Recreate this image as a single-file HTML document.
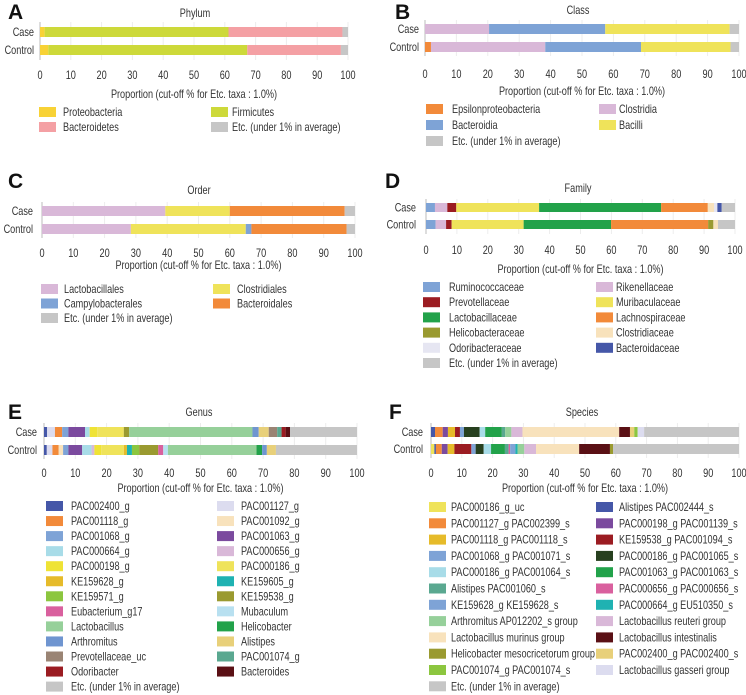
<!DOCTYPE html>
<html><head><meta charset="utf-8"><style>
html,body{margin:0;padding:0;background:#fff;}
svg{display:block;font-family:"Liberation Sans",Arial,sans-serif;}
</style></head><body>
<svg id="fig" width="746" height="695" viewBox="0 0 746 695"></svg>
<script>
// ---------- DATA ----------
const phylumLegend = ["Proteobacteria","Firmicutes","Bacteroidetes","Etc. (under 1% in average)"];
const phylumColors = ["#f8d236","#cdd93a","#f4a0a4","#c6c6c6"];
const phylumCaseTaxa = ["Proteobacteria","Firmicutes","Bacteroidetes","Etc. (under 1% in average)"];
const phylumCaseValues = [1.5,59.7,37.0,1.8];
const phylumControlTaxa = ["Proteobacteria","Firmicutes","Bacteroidetes","Etc. (under 1% in average)"];
const phylumControlValues = [2.7,64.6,30.4,2.3];

const classLegend = ["Epsilonproteobacteria","Clostridia","Bacteroidia","Bacilli","Etc. (under 1% in average)"];
const classColors = ["#f28a3a","#d9b8d8","#7ea3d6","#efe35a","#c6c6c6"];
const classCaseTaxa = ["Clostridia","Bacteroidia","Bacilli","Etc. (under 1% in average)"];
const classCaseValues = [20.4,37.0,39.6,3.0];
const classControlTaxa = ["Epsilonproteobacteria","Clostridia","Bacteroidia","Bacilli","Etc. (under 1% in average)"];
const classControlValues = [1.9,36.4,30.5,28.5,2.7];

const orderLegend = ["Lactobacillales","Clostridiales","Campylobacterales","Bacteroidales","Etc. (under 1% in average)"];
const orderColors = ["#d9b8d8","#efe35a","#7ea3d6","#f28a3a","#c6c6c6"];
const orderCaseTaxa = ["Lactobacillales","Clostridiales","Bacteroidales","Etc. (under 1% in average)"];
const orderCaseValues = [39.4,20.6,36.7,3.3];
const orderControlTaxa = ["Lactobacillales","Clostridiales","Campylobacterales","Bacteroidales","Etc. (under 1% in average)"];
const orderControlValues = [28.4,36.7,1.8,30.4,2.7];

const familyLegend = ["Ruminococcaceae","Rikenellaceae","Prevotellaceae","Muribaculaceae","Lactobacillaceae","Lachnospiraceae","Helicobacteraceae","Clostridiaceae","Odoribacteraceae","Bacteroidaceae","Etc. (under 1% in average)"];
const familyColors = ["#7ea3d6","#d9b8d8","#9b1c22","#efe35a","#22a24a","#f28a3a","#9a9a30","#f8e2bc","#e6e6f2","#4557a8","#c6c6c6"];
const familyCaseTaxa = ["Ruminococcaceae","Rikenellaceae","Prevotellaceae","Muribaculaceae","Lactobacillaceae","Lachnospiraceae","Clostridiaceae","Odoribacteraceae","Bacteroidaceae","Etc. (under 1% in average)"];
const familyCaseValues = [2.9,4.0,2.9,26.8,39.5,15.1,2.0,1.1,1.4,4.3];
const familyControlTaxa = ["Ruminococcaceae","Rikenellaceae","Prevotellaceae","Muribaculaceae","Lactobacillaceae","Lachnospiraceae","Helicobacteraceae","Clostridiaceae","Etc. (under 1% in average)"];
const familyControlValues = [3.1,3.4,1.8,23.3,28.3,31.4,1.7,1.5,5.5];

const genusLegend = ["PAC002400_g","PAC001127_g","PAC001118_g","PAC001092_g","PAC001068_g","PAC001063_g","PAC000664_g","PAC000656_g","PAC000198_g","PAC000186_g","KE159628_g","KE159605_g","KE159571_g","KE159538_g","Eubacterium_g17","Mubaculum","Lactobacillus","Helicobacter","Arthromitus","Alistipes","Prevotellaceae_uc","PAC001074_g","Odoribacter","Bacteroides","Etc. (under 1% in average)"];
const genusColors = ["#4557a8","#dcdcef","#f28a3a","#f8e2bc","#7ea3d6","#7b4a9e","#a8dce8","#d9b8d8","#efe335","#efe35a","#e6bb2a","#1fb2b2","#8cc63f","#9a9a30","#d9609e","#b8e0f0","#96d09a","#22a24a","#6f95d0","#e8d07a","#9a8474","#5aa890","#9b1c22","#5a1015","#c6c6c6"];
const genusCaseTaxa = ["PAC002400_g","PAC001127_g","PAC001118_g","PAC001068_g","PAC001063_g","PAC000664_g","PAC000198_g","PAC000186_g","KE159538_g","Lactobacillus","Arthromitus","Alistipes","Prevotellaceae_uc","PAC001074_g","Odoribacter","Bacteroides","Etc. (under 1% in average)"];
const genusCaseValues = [1.0,2.5,2.3,2.0,5.3,1.5,2.4,8.5,1.7,39.4,2.0,3.2,2.7,1.4,1.3,1.4,21.4];
const genusControlTaxa = ["PAC002400_g","PAC001127_g","PAC001118_g","PAC001092_g","PAC001068_g","PAC001063_g","PAC000664_g","PAC000656_g","PAC000198_g","PAC000186_g","KE159628_g","KE159605_g","KE159571_g","KE159538_g","Eubacterium_g17","Mubaculum","Lactobacillus","Helicobacter","Arthromitus","Alistipes","Etc. (under 1% in average)"];
const genusControlValues = [0.9,1.8,2.0,1.4,1.7,4.4,3.0,0.9,2.2,7.2,1.0,1.6,2.3,6.1,1.6,1.5,28.3,1.8,1.5,2.9,25.9];

const speciesLegend = ["PAC000186_g_uc","Alistipes PAC002444_s","PAC001127_g PAC002399_s","PAC000198_g PAC001139_s","PAC001118_g PAC001118_s","KE159538_g PAC001094_s","PAC001068_g PAC001071_s","PAC000186_g PAC001065_s","PAC000186_g PAC001064_s","PAC001063_g PAC001063_s","Alistipes PAC001060_s","PAC000656_g PAC000656_s","KE159628_g KE159628_s","PAC000664_g EU510350_s","Arthromitus AP012202_s group","Lactobacillus reuteri group","Lactobacillus murinus group","Lactobacillus intestinalis","Helicobacter mesocricetorum group","PAC002400_g PAC002400_s","PAC001074_g PAC001074_s","Lactobacillus gasseri group","Etc. (under 1% in average)"];
const speciesColors = ["#efe35a","#4557a8","#f28a3a","#7b4a9e","#e6bb2a","#9b1c22","#7ea3d6","#27401f","#a8dce8","#22a24a","#5aa890","#d9609e","#7ea3d6","#1fb2b2","#96d09a","#d9b8d8","#f8e2bc","#5a1015","#9a9a30","#e8d07a","#8cc63f","#dcdcef","#c6c6c6"];
const speciesCaseTaxa = ["Alistipes PAC002444_s","PAC001127_g PAC002399_s","PAC000198_g PAC001139_s","PAC001118_g PAC001118_s","KE159538_g PAC001094_s","PAC001068_g PAC001071_s","PAC000186_g PAC001065_s","PAC000186_g PAC001064_s","PAC001063_g PAC001063_s","Alistipes PAC001060_s","Arthromitus AP012202_s group","Lactobacillus reuteri group","Lactobacillus murinus group","Lactobacillus intestinalis","PAC002400_g PAC002400_s","PAC001074_g PAC001074_s","Lactobacillus gasseri group","Etc. (under 1% in average)"];
const speciesCaseValues = [1.3,2.5,1.7,2.3,1.6,1.3,5.1,1.8,5.4,1.1,2.0,3.6,31.4,3.5,1.4,1.1,2.1,30.8];
const speciesControlTaxa = ["PAC000186_g_uc","Alistipes PAC002444_s","PAC001127_g PAC002399_s","PAC000198_g PAC001139_s","PAC001118_g PAC001118_s","KE159538_g PAC001094_s","PAC001068_g PAC001071_s","PAC000186_g PAC001065_s","PAC000186_g PAC001064_s","PAC001063_g PAC001063_s","Alistipes PAC001060_s","PAC000656_g PAC000656_s","KE159628_g KE159628_s","PAC000664_g EU510350_s","Arthromitus AP012202_s group","Lactobacillus reuteri group","Lactobacillus murinus group","Lactobacillus intestinalis","Helicobacter mesocricetorum group","Etc. (under 1% in average)"];
const speciesControlValues = [1.1,0.5,1.9,1.9,2.2,5.5,1.4,2.6,2.4,4.5,1.2,0.5,1.7,0.7,2.2,3.8,14.0,10.0,1.0,40.9];

const tickValues = [0,10,20,30,40,50,60,70,80,90,100];
const groupNames = ["Case","Control"];

// ---------- LAYOUT ----------
const NS = "http://www.w3.org/2000/svg";
const svg = document.getElementById("fig");
const condensed = [];
const FS = 12;
function mk(tag, attrs, parent, text){
  const e = document.createElementNS(NS, tag);
  for (const k in attrs) e.setAttribute(k, attrs[k]);
  if (text !== undefined) e.textContent = text;
  (parent || svg).appendChild(e);
  return e;
}

function drawPanel(L, legend, colors, caseTaxa, caseVals, ctrlTaxa, ctrlVals){
  const g = mk("g", {});
  
  
  const xs = v => L.x0 + (L.x1 - L.x0) * v / 100;
  const colorOf = n => colors[legend.indexOf(n)];

  const letter = mk("text", {x:L.lx, y:L.ly, "font-size":21, "font-weight":"bold", fill:"#111"}, g, L.letter);
  
  
  const title = mk("text", {x:L.tx, y:L.ty, "font-size":FS, "text-anchor":"middle", fill:"#333"}, g, L.title);
  
  
  condensed.push(title);

  tickValues.forEach(t => {
    const gl = mk("line", {x1:xs(t), x2:xs(t), y1:L.top, y2:L.bottom, stroke:"#ececec", "stroke-width":1}, g);
    
    
  });
  const ax = mk("line", {x1:L.x0, x2:L.x0, y1:L.top, y2:L.bottom, stroke:"#bbb", "stroke-width":1}, g);
  
  

  const bars = [[caseTaxa, caseVals, L.caseY], [ctrlTaxa, ctrlVals, L.ctrlY]];
  bars.forEach((b, bi) => {
    const lab = mk("text", {x:L.labelX, y:b[2] + L.barH/2 + 4, "font-size":FS, "text-anchor":"end", fill:"#333"}, g, groupNames[bi]);
    
    
    condensed.push(lab);
    let acc = 0;
    b[0].forEach((name, i) => {
      const v = b[1][i];
      const r = mk("rect", {x:xs(acc), y:b[2], width:Math.max(0, xs(acc + v) - xs(acc)), height:L.barH, fill:colorOf(name)}, g);
      
      
      mk("title", {}, r, groupNames[bi] + " - " + name + ": " + v + "%");
      acc += v;
    });
  });

  tickValues.forEach(t => {
    const tk = mk("text", {x:xs(t), y:L.tickY, "font-size":FS, "text-anchor":"middle", fill:"#333"}, g, String(t));
    
    
    condensed.push(tk);
  });
  const at = mk("text", {x:(L.x0 + L.x1)/2, y:L.axY, "font-size":FS, "text-anchor":"middle", fill:"#333"}, g, "Proportion (cut-off % for Etc. taxa : 1.0%)");
  
  
  condensed.push(at);

  legend.forEach((name, i) => {
    const col = i % 2, row = Math.floor(i / 2);
    const cy = L.legY + row * L.legDy;
    const sx = col === 0 ? L.sw1 : L.sw2;
    const tx = col === 0 ? L.t1 : L.t2;
    const s = mk("rect", {x:sx, y:cy - 5, width:17, height:10, fill:colors[i]}, g);
    
    
    const t = mk("text", {x:tx, y:cy + 4, "font-size":FS, fill:"#333"}, g, name);
    
    
    condensed.push(t);
  });
}

drawPanel({id:"phylum", letter:"A", lx:8, ly:19, title:"Phylum", tx:195, ty:17, x0:40, x1:348, top:22, bottom:60, caseY:27, ctrlY:45, barH:10, labelX:34, tickY:79, axY:98, legY:112, legDy:15, sw1:39, t1:63, sw2:211, t2:232},
  phylumLegend, phylumColors, phylumCaseTaxa, phylumCaseValues, phylumControlTaxa, phylumControlValues);
drawPanel({id:"class", letter:"B", lx:395, ly:19, title:"Class", tx:578, ty:14, x0:425, x1:739, top:20, bottom:56, caseY:24, ctrlY:42, barH:10, labelX:419, tickY:78, axY:95, legY:109, legDy:16, sw1:426, t1:452, sw2:599, t2:619},
  classLegend, classColors, classCaseTaxa, classCaseValues, classControlTaxa, classControlValues);
drawPanel({id:"order", letter:"C", lx:8, ly:188, title:"Order", tx:199, ty:194, x0:42, x1:355, top:202, bottom:238, caseY:206, ctrlY:224, barH:10, labelX:33, tickY:257, axY:269, legY:289, legDy:14.5, sw1:41, t1:64, sw2:213, t2:237},
  orderLegend, orderColors, orderCaseTaxa, orderCaseValues, orderControlTaxa, orderControlValues);
drawPanel({id:"family", letter:"D", lx:385, ly:188, title:"Family", tx:578, ty:192, x0:426, x1:735, top:199, bottom:234, caseY:203, ctrlY:220, barH:9, labelX:416, tickY:254, axY:273, legY:287, legDy:15.2, sw1:423, t1:449, sw2:596, t2:616},
  familyLegend, familyColors, familyCaseTaxa, familyCaseValues, familyControlTaxa, familyControlValues);
drawPanel({id:"genus", letter:"E", lx:8, ly:419, title:"Genus", tx:199, ty:416, x0:44, x1:357, top:423, bottom:459, caseY:427, ctrlY:445, barH:10, labelX:37, tickY:477, axY:492, legY:506, legDy:15.05, sw1:46, t1:71, sw2:217, t2:241},
  genusLegend, genusColors, genusCaseTaxa, genusCaseValues, genusControlTaxa, genusControlValues);
drawPanel({id:"species", letter:"F", lx:389, ly:419, title:"Species", tx:582, ty:416, x0:431, x1:739, top:423, bottom:458, caseY:427, ctrlY:444, barH:10, labelX:423, tickY:477, axY:492, legY:507, legDy:16.3, sw1:429, t1:451, sw2:596, t2:619},
  speciesLegend, speciesColors, speciesCaseTaxa, speciesCaseValues, speciesControlTaxa, speciesControlValues);

// reference typeface is narrower; condense text horizontally
condensed.forEach(t => {
  const w = t.getComputedTextLength();
  if (w > 0) {
    t.setAttribute("textLength", (w * 0.76).toFixed(1));
    t.setAttribute("lengthAdjust", "spacingAndGlyphs");
  }
});
</script>
</body></html>
